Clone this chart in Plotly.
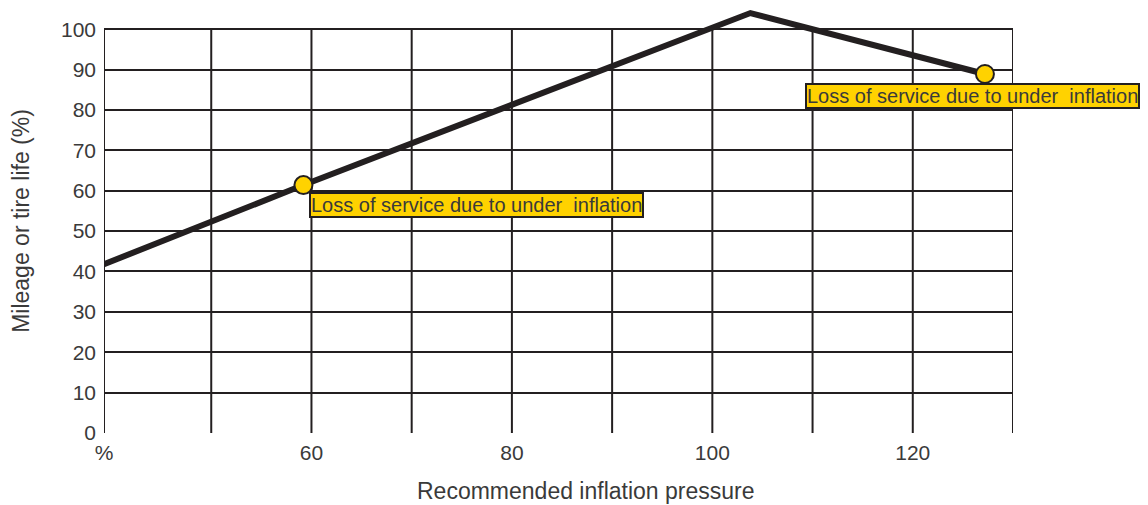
import plotly.graph_objects as go

# line through the chart (pressure %, mileage %)
pressure = [39.3, 59.2, 103.8, 127.2]
mileage = [41.8, 61.4, 104.0, 88.9]

# the two marked points
mark_x = [59.2, 127.2]
mark_y = [61.4, 88.9]
mark_text = ["Loss of service due to under \u00a0inflation",
             "Loss of service due to under \u00a0inflation"]

x_ticks = [39.3, 60, 80, 100, 120]
x_labels = ["%", "60", "80", "100", "120"]
x_grid = [50, 60, 70, 80, 90, 100, 110, 120]
x_left, x_right = 39.3, 130.0
y_top = 100

ink = "#231f20"
yellow = "#ffd200"
txt = "#3a3a3a"

fig = go.Figure()
fig.add_trace(go.Scatter(x=pressure, y=mileage, mode="lines",
                         line=dict(color=ink, width=6), hoverinfo="skip"))
fig.add_trace(go.Scatter(x=mark_x, y=mark_y, mode="markers",
                         marker=dict(size=18, color=yellow, line=dict(color=ink, width=2)),
                         cliponaxis=False, hoverinfo="skip"))

# grid and frame only go up to 100, the line pokes above it
shapes = []
for gx in x_grid + [x_left, x_right]:
    shapes.append(dict(type="line", xref="x", yref="y", x0=gx, x1=gx, y0=0, y1=y_top,
                       line=dict(color=ink, width=2), layer="below"))
fig.update_layout(shapes=shapes)

# labels next to the markers
fig.add_annotation(x=mark_x[0], y=mark_y[0], text=mark_text[0], showarrow=False,
                   xanchor="left", yanchor="top", xshift=6, yshift=-7,
                   bgcolor=yellow, bordercolor=ink, borderwidth=2, borderpad=0,
                   font=dict(size=20, color=txt, family="Liberation Sans, Arial"))
fig.add_annotation(x=mark_x[1], y=mark_y[1], text=mark_text[1], showarrow=False,
                   xanchor="right", yanchor="top", xshift=155, yshift=-9,
                   bgcolor=yellow, bordercolor=ink, borderwidth=2, borderpad=0,
                   font=dict(size=20, color=txt, family="Liberation Sans, Arial"))

# x title sits a little right of the plot centre in the original
fig.add_annotation(x=0.5, y=0, xref="paper", yref="paper", xshift=27, yshift=-43,
                   text="Recommended inflation pressure", showarrow=False,
                   xanchor="center", yanchor="top", font=dict(size=23, color=txt))

# page body adds an 8px margin, so the figure is a bit smaller than the window
fig.update_layout(
    width=1140, height=497,
    margin=dict(l=96, r=135, t=1, b=72),
    plot_bgcolor="white", paper_bgcolor="white",
    showlegend=False,
    font=dict(family="Liberation Sans, Arial", color=txt, size=21),
    xaxis=dict(range=[x_left, x_right], tickvals=x_ticks, ticktext=x_labels,
               showgrid=False, zeroline=False, showline=False, ticks="",
               ticklabelstandoff=5, automargin=False),
    yaxis=dict(range=[0, 105], tickvals=list(range(0, 101, 10)),
               showgrid=True, gridcolor=ink, gridwidth=2, zeroline=False,
               showline=False, ticks="", ticklabelstandoff=7, automargin=False,
               title=dict(text="Mileage or tire life (%)", font=dict(size=23), standoff=24)),
)

fig.write_html("out.html")
